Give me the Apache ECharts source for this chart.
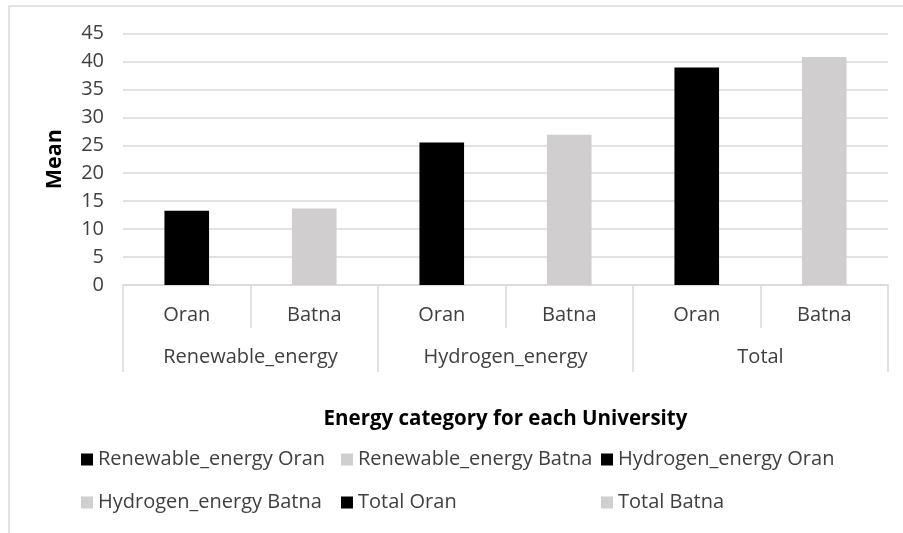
<!DOCTYPE html>
<html>
<head>
<meta charset="utf-8">
<script src="https://cdn.jsdelivr.net/npm/echarts@6/dist/echarts.min.js"></script>
<style>
  html, body { margin: 0; padding: 0; background: #ffffff; }
  #chart { width: 903px; height: 533px; }
</style>
</head>
<body>
<div id="chart"></div>
<script>
// Mean scores by energy category and university
const universities = ['Oran', 'Batna'];
const energyGroups = ['Renewable_energy', 'Hydrogen_energy', 'Total'];
const oranMeans = [13.3, 25.5, 38.9];
const batnaMeans = [13.7, 26.9, 40.8];
const universityColors = ['#000000', '#d0cece'];

const FONT = '"Open Sans", "Noto Sans", sans-serif';
const LABEL_COLOR = '#404040';
const RULE_COLOR = '#d9d9d9';

// Inner axis: one slot per university inside each group
const slots = [];
energyGroups.forEach(() => universities.forEach(u => slots.push(u)));

// One series per (group, university) so every bar gets its own legend entry
const meansByUniversity = [oranMeans, batnaMeans];
const series = [];
energyGroups.forEach((group, g) => {
  universities.forEach((uni, u) => {
    const data = slots.map(() => '-');
    data[g * universities.length + u] = meansByUniversity[u][g];
    series.push({
      name: group + ' ' + uni,
      type: 'bar',
      data: data,
      barWidth: '35%',
      barGap: '-100%',
      itemStyle: { color: universityColors[u] },
      emphasis: { disabled: true }
    });
  });
});

const chart = echarts.init(document.getElementById('chart'), null, { renderer: 'canvas' });
chart.setOption({
  animation: false,
  backgroundColor: '#ffffff',
  textStyle: { fontFamily: FONT },
  graphic: [{
    type: 'rect',
    shape: { x: 9, y: 6, width: 1200, height: 1200 },
    style: { fill: 'none', stroke: RULE_COLOR, lineWidth: 1.5 },
    silent: true,
    z: -10
  }],
  grid: { left: 123, right: 15, top: 33.5, bottom: 248 },
  xAxis: [
    {
      type: 'category',
      data: slots,
      position: 'bottom',
      axisLine: { show: true, lineStyle: { color: RULE_COLOR, width: 1.5 } },
      axisTick: { show: true, interval: 0, length: 43, lineStyle: { color: RULE_COLOR, width: 1.5 } },
      axisLabel: { interval: 0, margin: 20, color: LABEL_COLOR, fontSize: 20, fontFamily: FONT }
    },
    {
      type: 'category',
      data: energyGroups,
      position: 'bottom',
      offset: 0,
      axisLine: { show: false },
      axisTick: { show: true, interval: 0, length: 87, lineStyle: { color: RULE_COLOR, width: 1.5 } },
      axisLabel: { interval: 0, margin: 62, color: LABEL_COLOR, fontSize: 20, fontFamily: FONT },
      name: 'Energy category for each University',
      nameLocation: 'middle',
      nameGap: 124,
      nameTextStyle: { color: '#000000', fontWeight: 'bold', fontSize: 20.5, fontFamily: FONT }
    }
  ],
  yAxis: {
    type: 'value',
    min: 0,
    max: 45,
    interval: 5,
    axisLine: { show: false },
    axisTick: { show: false },
    axisLabel: { margin: 19, color: LABEL_COLOR, fontSize: 20, fontFamily: FONT },
    splitLine: { lineStyle: { color: RULE_COLOR, width: 1.5 } },
    name: 'Mean',
    nameLocation: 'middle',
    nameRotate: 90,
    nameGap: 57,
    nameTextStyle: { color: '#000000', fontWeight: 'bold', fontSize: 21.5, fontFamily: FONT }
  },
  legend: {
    left: 81,
    top: 438,
    width: 790,
    padding: 0,
    itemGap: 0,
    itemWidth: 12,
    itemHeight: 12,
    itemStyle: { borderWidth: 0 },
    icon: 'rect',
    selectedMode: false,
    textStyle: {
      color: LABEL_COLOR,
      fontSize: 20,
      fontFamily: FONT,
      width: 243,
      lineHeight: 43,
      overflow: 'none'
    }
  },
  series: series
});
</script>
</body>
</html>
